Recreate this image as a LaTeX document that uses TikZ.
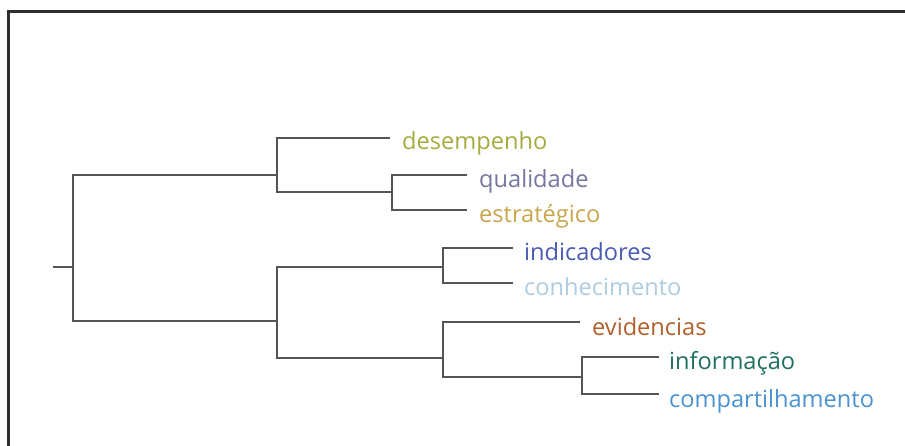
\documentclass[tikz,border=0pt]{standalone}
\usepackage{fontspec}
\setmainfont{Open Sans}
\definecolor{branch}{HTML}{555555}
\definecolor{frameline}{HTML}{2E2E2E}
\definecolor{cDes}{HTML}{A6AC3E}
\definecolor{cQua}{HTML}{7676A0}
\definecolor{cEst}{HTML}{C9A64C}
\definecolor{cInd}{HTML}{4A5CB2}
\definecolor{cCon}{HTML}{AECDE2}
\definecolor{cEvi}{HTML}{B0602E}
\definecolor{cInf}{HTML}{1F7060}
\definecolor{cCom}{HTML}{4A92D0}
\begin{document}
\begin{tikzpicture}[x=1pt,y=-1pt,
  branchline/.style={draw=branch,line width=2.8pt},
  leaf/.style={anchor=base west,inner sep=0pt,font=\fontsize{23.6}{27}\selectfont}]
  % canvas and frame
  \fill[white] (0,0) rectangle (905,446);
  \useasboundingbox (0,0) rectangle (905,446);
  \draw[frameline,line width=2.2pt] (8.5,446) -- (8.5,11.5) -- (905,11.5);

  % junctions and branch ends
  \coordinate (r0) at (53,267);
  \coordinate (r)  at (73,267);
  \coordinate (A)  at (277,175);
  \coordinate (B)  at (392,192);
  \coordinate (C)  at (277,321);
  \coordinate (D)  at (443,267);
  \coordinate (E)  at (443,358);
  \coordinate (F)  at (582,377);
  \coordinate (desE) at (390,138);
  \coordinate (quaE) at (467,175);
  \coordinate (estE) at (467,210);
  \coordinate (indE) at (513,248);
  \coordinate (conE) at (513,283);
  \coordinate (eviE) at (580,322);
  \coordinate (infE) at (659,357);
  \coordinate (comE) at (659,394);

  % dendrogram
  \draw[branchline] (r0) -- (r);
  \draw[branchline] (r) |- (A);
  \draw[branchline] (r) |- (C);
  \draw[branchline] (A) |- (desE);
  \draw[branchline] (A) |- (B);
  \draw[branchline] (B) |- (quaE);
  \draw[branchline] (B) |- (estE);
  \draw[branchline] (C) |- (D);
  \draw[branchline] (C) |- (E);
  \draw[branchline] (D) |- (indE);
  \draw[branchline] (D) |- (conE);
  \draw[branchline] (E) |- (eviE);
  \draw[branchline] (E) |- (F);
  \draw[branchline] (F) |- (infE);
  \draw[branchline] (F) |- (comE);

  % leaf labels
  \node[leaf,text=cDes] (des) at (402,150) {desempenho};
  \node[leaf,text=cQua] (qua) at (479,188) {qualidade};
  \node[leaf,text=cEst] (est) at (479,223) {estratégico};
  \node[leaf,text=cInd] (ind) at (524,261) {indicadores};
  \node[leaf,text=cCon] (con) at (524,296) {conhecimento};
  \node[leaf,text=cEvi] (evi) at (592,335) {evidencias};
  \node[leaf,text=cInf] (inf) at (669,370) {informação};
  \node[leaf,text=cCom] (com) at (669,407) {compartilhamento};
\end{tikzpicture}
\end{document}
